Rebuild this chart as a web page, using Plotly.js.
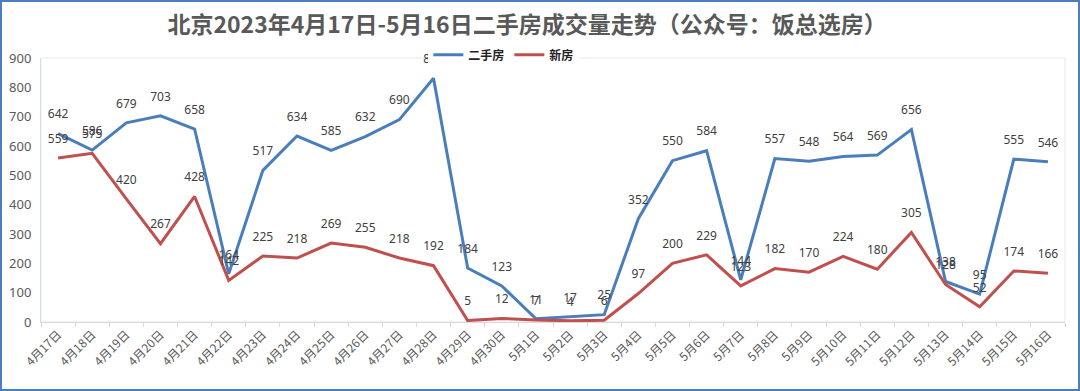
<!DOCTYPE html>
<html>
<head>
<meta charset="utf-8">
<script src="https://cdn.plot.ly/plotly-3.0.1.min.js"></script>
<style>
html,body{margin:0;padding:0;background:#fff;}
#wrap{position:relative;width:1080px;height:391px;}
#chart{width:1080px;height:391px;}
#frame{position:absolute;left:0;top:0;width:1080px;height:391px;box-sizing:border-box;border:2px solid #4a7ec0;pointer-events:none;}
</style>
</head>
<body>
<div id="wrap"><div id="chart"></div><div id="frame"></div></div>
<script>
const categories = ["4月17日","4月18日","4月19日","4月20日","4月21日","4月22日","4月23日","4月24日","4月25日","4月26日","4月27日","4月28日","4月29日","4月30日","5月1日","5月2日","5月3日","5月4日","5月5日","5月6日","5月7日","5月8日","5月9日","5月10日","5月11日","5月12日","5月13日","5月14日","5月15日","5月16日"];
const secondHand = [642,586,679,703,658,164,517,634,585,632,690,831,184,123,11,17,25,352,550,584,144,557,548,564,569,656,138,95,555,546];
const newHome = [559,575,420,267,428,142,225,218,269,255,218,192,5,12,7,4,6,97,200,229,123,182,170,224,180,305,128,52,174,166];
const yTicks = [0,100,200,300,400,500,600,700,800,900];

const labelFont = {family:"Noto Sans, Open Sans, sans-serif", size:12, color:"#404040"};
const traces = [
  {x:categories, y:secondHand, name:"二手房", type:"scatter", mode:"lines+markers+text",
   line:{color:"#4a7ebb", width:3}, marker:{size:18, color:"rgba(0,0,0,0)"},
   text:secondHand.map(String), textposition:"top center",
   textfont:labelFont, cliponaxis:false, hoverinfo:"x+y"},
  {x:categories, y:newHome, name:"新房", type:"scatter", mode:"lines+markers+text",
   line:{color:"#c0504d", width:3}, marker:{size:18, color:"rgba(0,0,0,0)"},
   text:newHome.map(String), textposition:"top center",
   textfont:labelFont, cliponaxis:false, hoverinfo:"x+y"}
];

const layout = {
  width:1080, height:391,
  margin:{l:41, r:15, t:58, b:69},
  paper_bgcolor:"#ffffff", plot_bgcolor:"#ffffff",
  font:{family:"Noto Sans CJK SC, Noto Sans, sans-serif", color:"#595959"},
  title:{text:"<b>北京2023年4月17日-5月16日二手房成交量走势（公众号：饭总选房）</b>",
    font:{family:"Noto Sans CJK SC, sans-serif", size:23, color:"#595959"},
    x:0.488, xanchor:"center", y:0.935, yanchor:"middle"},
  showlegend:true,
  legend:{orientation:"h", x:0.452, xanchor:"center", y:1.012, yanchor:"middle",
    font:{family:"Noto Sans CJK SC, sans-serif", size:12, color:"#222222", weight:"bold"},
    bgcolor:"rgba(255,255,255,1)", itemwidth:30, tracegroupgap:0},
  xaxis:{type:"category", tickangle:-45, tickson:"boundaries", ticks:"outside", ticklen:4,
    tickcolor:"#d9d9d9", showline:true, linecolor:"#d9d9d9", linewidth:1,
    showgrid:false, zeroline:false,
    tickfont:{family:"Noto Sans CJK SC, sans-serif", size:12, color:"#595959"},
    range:[-0.5, categories.length-0.5]},
  yaxis:{range:[0,900], tickvals:yTicks, ticktext:yTicks.map(String), showgrid:false,
    zeroline:false, showline:true, linecolor:"#d6dde8", linewidth:1, ticks:"",
    tickfont:{family:"Noto Sans, sans-serif", size:13, color:"#595959"}, ticklabelstandoff:6},
  shapes:[{type:"rect", xref:"paper", yref:"paper", x0:0, x1:1, y0:0, y1:1,
    line:{color:"#e4e9f1", width:1}, fillcolor:"rgba(0,0,0,0)", layer:"below"}]
};

Plotly.newPlot("chart", traces, layout, {displayModeBar:false, staticPlot:true});
</script>
</body>
</html>
